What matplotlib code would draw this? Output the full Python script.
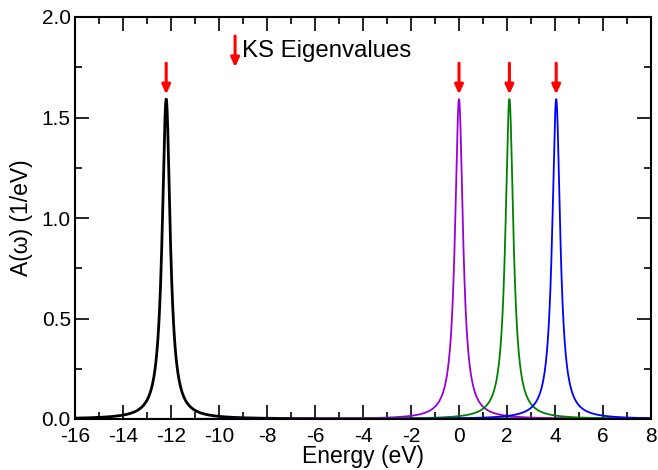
import matplotlib
matplotlib.use("Agg")
import matplotlib.pyplot as plt
import numpy as np

plt.rcParams['font.family'] = ['Liberation Sans', 'DejaVu Sans']

# KS eigenvalues (eV) and Lorentzian broadening (eV)
eigenvalues = [-12.2, 0.0, 2.1, 4.05]
colors = ['black', '#9a00d6', 'green', 'blue']
widths = [2.0, 1.3, 1.3, 1.3]
gamma = 0.2

fig = plt.figure(figsize=(6.58, 4.70), dpi=100)
ax = fig.add_axes([75/658, 51/470, 576/658, 402/470])

w = np.linspace(-16, 8, 4001)
for e, c, lw in zip(eigenvalues, colors, widths):
    a = (1/np.pi) * gamma / ((w - e)**2 + gamma**2)
    ax.plot(w, a, color=c, lw=lw)

arrow = dict(arrowstyle='-|>,head_length=0.55,head_width=0.25',
             color='red', lw=2.2, shrinkA=0, shrinkB=0)

# arrows marking each eigenvalue
for e in eigenvalues:
    ax.annotate('', xy=(e, 1.615), xytext=(e, 1.77), arrowprops=arrow)

# legend-style key
ax.annotate('', xy=(-9.33, 1.75), xytext=(-9.33, 1.905), arrowprops=arrow)
ax.text(-9.05, 1.83, 'KS Eigenvalues', fontsize=17.3, va='center', ha='left')

ax.set_xlim(-16, 8)
ax.set_ylim(0, 2.0)
ax.set_xticks(np.arange(-16, 9, 2))
ax.set_xticks(np.arange(-16, 9, 1), minor=True)
ax.set_yticks(np.arange(0, 2.01, 0.5))
ax.set_yticks(np.arange(0, 2.01, 0.25), minor=True)
ax.set_xticklabels([str(v) for v in range(-16, 9, 2)])
ax.set_yticklabels(['0.0', '0.5', '1.0', '1.5', '2.0'])
ax.tick_params(which='both', direction='in', top=True, right=True, labelsize=15, width=1.2)
ax.tick_params(which='major', length=10)
ax.tick_params(axis='x', which='major', pad=6)
ax.tick_params(axis='y', which='major', pad=3)
ax.tick_params(which='minor', length=5)
for s in ax.spines.values():
    s.set_linewidth(1.5)

ax.set_xlabel('Energy (eV)', fontsize=16.5, labelpad=-1)
ax.set_ylabel('A(ω) (1/eV)', fontsize=16.5, labelpad=6)

fig.savefig('out.png', dpi=100)
